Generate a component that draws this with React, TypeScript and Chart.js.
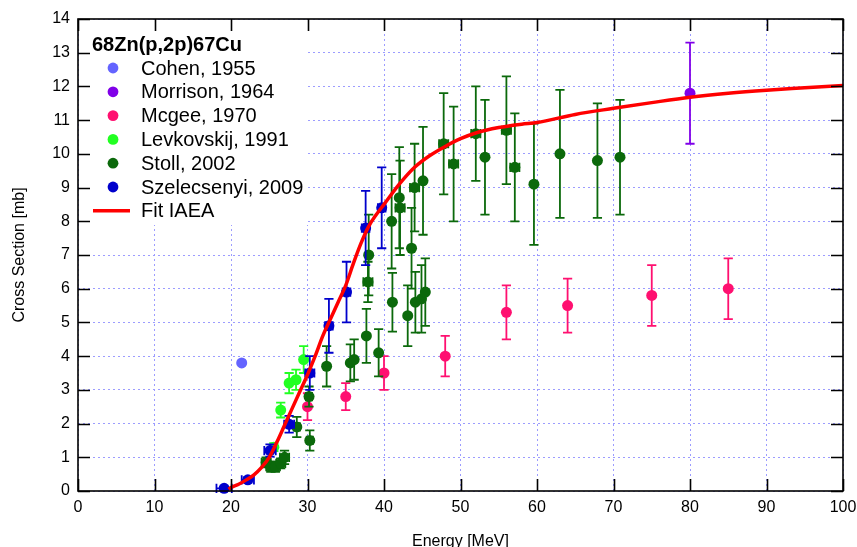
import React, { useEffect, useRef } from 'react';
import { Chart, registerables } from 'chart.js';

Chart.register(...registerables);

const FONT = 'Arial, "Liberation Sans", sans-serif';

// ---- data ----
const titleText = '68Zn(p,2p)67Cu';
const xTitle = 'Energy [MeV]';
const yTitle = 'Cross Section [mb]';

const cohenE = [21.4];
const cohenXS = [3.8];
const cohenErr = [0];

const morrisonE = [80];
const morrisonXS = [11.8];
const morrisonErr = [1.5];

const mcgeeE = [30, 35, 40, 48, 56, 64, 75, 85];
const mcgeeXS = [2.5, 2.8, 3.5, 4.0, 5.3, 5.5, 5.8, 6.0];
const mcgeeErr = [0.4, 0.4, 0.5, 0.6, 0.8, 0.8, 0.9, 0.9];

const levE = [25.6, 26.5, 27.6, 28.5, 29.5];
const levXS = [1.3, 2.4, 3.2, 3.3, 3.9];
const levErr = [0.12, 0.22, 0.3, 0.3, 0.4];

const stollE = [24.6, 25.2, 25.8, 26.5, 27.0, 28.6, 30.2, 30.3, 32.5, 35.6, 36.1, 37.7, 37.9, 38.0, 39.3, 41.0, 41.1, 42.0, 42.1, 43.1, 43.6, 44.0, 44.1, 44.9, 45.1, 45.4, 47.8, 49.1, 52.0, 53.2, 56.0, 57.1, 59.6, 63.0, 67.9, 70.85];
const stollXS = [0.85, 0.72, 0.72, 0.82, 1.0, 1.9, 2.8, 1.5, 3.7, 3.8, 3.9, 4.6, 6.2, 7.0, 4.1, 8.0, 5.6, 8.7, 8.4, 5.2, 7.2, 9.0, 5.6, 5.7, 9.2, 5.9, 10.3, 9.7, 10.6, 9.9, 10.7, 9.6, 9.1, 10.0, 9.8, 9.9];
const stollErr = [0.15, 0.15, 0.15, 0.15, 0.2, 0.3, 0.3, 0.3, 0.6, 0.55, 0.6, 0.8, 0.6, 1.2, 0.7, 1.4, 0.87, 1.5, 1.4, 0.9, 1.2, 1.3, 0.9, 1.0, 1.6, 1.0, 1.5, 1.7, 1.4, 1.7, 1.6, 1.6, 1.8, 1.9, 1.7, 1.7];
const stollXErr = [0.6, 0.6, 0.6, 0.6, 0.6, 0.4, 0.4, 0.4, 0, 0, 0, 0, 0.6, 0, 0, 0, 0, 0, 0.6, 0, 0, 0.6, 0, 0, 0, 0, 0.6, 0.6, 0.6, 0, 0.6, 0.6, 0, 0, 0, 0];

const szE = [19.1, 22.2, 25.1, 27.6, 30.3, 32.8, 35.1, 37.6, 39.7];
const szXS = [0.08, 0.33, 1.2, 1.98, 3.5, 4.9, 5.9, 7.8, 8.4];
const szErr = [0.05, 0.08, 0.18, 0.25, 0.5, 0.8, 0.9, 1.1, 1.2];
const szXErr = [1.0, 0.8, 0.75, 0.65, 0.6, 0.5, 0.5, 0.5, 0.5];

const fitE = [19.7, 20, 21, 22, 23, 24, 25, 26, 27, 28, 29, 30, 31, 32, 33, 34, 35, 36, 37, 38, 39, 40, 42, 44, 46, 48, 50, 52, 55, 58, 60, 65, 70, 75, 80, 85, 90, 95, 100];
const fitXS = [0.05, 0.1, 0.2, 0.33, 0.48, 0.7, 1.0, 1.45, 1.95, 2.45, 2.95, 3.45, 4.0, 4.6, 5.1, 5.6, 6.1, 6.75, 7.35, 7.85, 8.2, 8.5, 9.1, 9.6, 9.95, 10.22, 10.45, 10.62, 10.78, 10.88, 10.93, 11.17, 11.35, 11.52, 11.68, 11.8, 11.89, 11.96, 12.03];

const xTicksMax = 100;
const yTicksMax = 14;

const pts = (xs: number[], ys: number[]) => xs.map((x, i) => ({ x, y: ys[i] }));

const errorBarPlugin = {
  id: 'errorBars',
  beforeDatasetDraw(chart: any, args: any) {
    const ds = chart.data.datasets[args.index];
    if (!ds.yErr && !ds.xErr) return;
    const { ctx } = chart;
    const x = chart.scales.x;
    const y = chart.scales.y;
    const cap = 4.6;
    ctx.save();
    ctx.strokeStyle = ds.backgroundColor;
    ctx.lineWidth = 1.8;
    ds.data.forEach((p: any, i: number) => {
      const px = x.getPixelForValue(p.x);
      const py = y.getPixelForValue(p.y);
      const ey = ds.yErr ? ds.yErr[i] || 0 : 0;
      const ex = ds.xErr ? ds.xErr[i] || 0 : 0;
      ctx.beginPath();
      if (ey > 0) {
        const t = y.getPixelForValue(p.y + ey);
        const b = y.getPixelForValue(p.y - ey);
        ctx.moveTo(px, t); ctx.lineTo(px, b);
        ctx.moveTo(px - cap, t); ctx.lineTo(px + cap, t);
        ctx.moveTo(px - cap, b); ctx.lineTo(px + cap, b);
      }
      if (ex > 0) {
        const l = x.getPixelForValue(p.x - ex);
        const r = x.getPixelForValue(p.x + ex);
        ctx.moveTo(l, py); ctx.lineTo(r, py);
        ctx.moveTo(l, py - cap); ctx.lineTo(l, py + cap);
        ctx.moveTo(r, py - cap); ctx.lineTo(r, py + cap);
      }
      ctx.stroke();
    });
    ctx.restore();
  },
};

const legendPlugin = {
  id: 'insideLegend',
  beforeDatasetsDraw(chart: any) {
    const { ctx, chartArea: a } = chart;
    ctx.save();
    ctx.fillStyle = '#fff';
    ctx.fillRect(a.left + 1, a.top + 1, 229, 205);
    ctx.fillStyle = '#000';
    ctx.textBaseline = 'middle';
    ctx.textAlign = 'left';
    ctx.font = `bold 20px ${FONT}`;
    ctx.fillText(titleText, a.left + 14, a.top + 26);
    ctx.font = `20px ${FONT}`;
    const rowH = 23.8;
    chart.data.datasets.forEach((ds: any, i: number) => {
      const yy = a.top + 49 + i * rowH;
      if (ds.isFit) {
        ctx.strokeStyle = ds.borderColor;
        ctx.lineWidth = 3.5;
        ctx.beginPath();
        ctx.moveTo(a.left + 15, yy);
        ctx.lineTo(a.left + 52, yy);
        ctx.stroke();
      } else {
        ctx.fillStyle = ds.backgroundColor;
        ctx.beginPath();
        ctx.arc(a.left + 35, yy, 5.4, 0, Math.PI * 2);
        ctx.fill();
      }
      ctx.fillStyle = '#000';
      ctx.fillText(ds.label, a.left + 63, yy + 1);
    });
    ctx.restore();
  },
};

const framePlugin = {
  id: 'frameTicks',
  afterDraw(chart: any) {
    const { ctx, chartArea: a } = chart;
    const x = chart.scales.x;
    const y = chart.scales.y;
    const tl = 12;
    ctx.save();
    ctx.strokeStyle = '#000';
    ctx.lineWidth = 1.6;
    ctx.strokeRect(a.left, a.top, a.right - a.left, a.bottom - a.top);
    ctx.beginPath();
    x.ticks.forEach((t: any) => {
      const px = Math.round(x.getPixelForValue(t.value)) + 0.5;
      ctx.moveTo(px, a.bottom); ctx.lineTo(px, a.bottom - tl);
      ctx.moveTo(px, a.top); ctx.lineTo(px, a.top + tl);
    });
    y.ticks.forEach((t: any) => {
      const py = Math.round(y.getPixelForValue(t.value)) + 0.5;
      ctx.moveTo(a.left, py); ctx.lineTo(a.left + tl, py);
      ctx.moveTo(a.right, py); ctx.lineTo(a.right - tl, py);
    });
    ctx.stroke();
    ctx.restore();
  },
};

export default function App() {
  const ref = useRef<HTMLCanvasElement | null>(null);

  useEffect(() => {
    if (!ref.current) return;
    const mk = (label: string, color: string, xs: number[], ys: number[], yErr: number[], xErr: number[] | null, order: number) => ({
      label,
      data: pts(xs, ys),
      backgroundColor: color,
      borderColor: color,
      borderWidth: 0,
      pointRadius: 5.5,
      pointHoverRadius: 5.5,
      showLine: false,
      clip: false as any,
      yErr,
      xErr,
      order,
    });
    const chart = new Chart(ref.current, {
      type: 'scatter',
      data: {
        datasets: [
          mk('Cohen, 1955', '#6464ff', cohenE, cohenXS, cohenErr, null, 6),
          mk('Morrison, 1964', '#8000e8', morrisonE, morrisonXS, morrisonErr, null, 5),
          mk('Mcgee, 1970', '#ff1070', mcgeeE, mcgeeXS, mcgeeErr, null, 4),
          mk('Levkovskij, 1991', '#22ff22', levE, levXS, levErr, null, 3),
          mk('Stoll, 2002', '#0b690b', stollE, stollXS, stollErr, stollXErr, 2),
          mk('Szelecsenyi, 2009', '#0000cc', szE, szXS, szErr, szXErr, 1),
          {
            label: 'Fit IAEA',
            type: 'line',
            data: pts(fitE, fitXS),
            borderColor: '#ff0000',
            backgroundColor: '#ff0000',
            borderWidth: 3.5,
            pointRadius: 0,
            showLine: true,
            fill: false,
            cubicInterpolationMode: 'monotone',
            clip: false,
            isFit: true,
            order: 0,
          } as any,
        ] as any,
      },
      options: {
        responsive: false,
        animation: false,
        devicePixelRatio: 1,
        events: [],
        layout: { padding: { top: 19, right: 14, left: 0, bottom: 0 } },
        plugins: {
          legend: { display: false },
          tooltip: { enabled: false },
        },
        scales: {
          x: {
            type: 'linear',
            min: 0,
            max: xTicksMax,
            ticks: { stepSize: 10, color: '#000', padding: 7, maxRotation: 0, font: { size: 16, family: FONT } },
            grid: { color: '#9c9cff', lineWidth: 1, drawTicks: false },
            border: { display: false, dash: [2, 3] },
            title: { display: true, text: xTitle, color: '#000', font: { size: 16, family: FONT }, padding: { top: 0, bottom: -4 } },
            afterFit(s: any) { s.height = 56; s.paddingRight = 0; s.paddingLeft = 0; },
          },
          y: {
            type: 'linear',
            min: 0,
            max: yTicksMax,
            ticks: { stepSize: 1, color: '#000', padding: 8, font: { size: 16, family: FONT } },
            grid: { color: '#9c9cff', lineWidth: 1, drawTicks: false },
            border: { display: false, dash: [2, 3] },
            title: { display: true, text: yTitle, color: '#000', font: { size: 16, family: FONT }, padding: { top: 10, bottom: 0 } },
            afterFit(s: any) { s.width = 78; s.paddingTop = 0; s.paddingBottom = 0; },
          },
        },
      } as any,
      plugins: [errorBarPlugin, legendPlugin, framePlugin],
    });
    return () => chart.destroy();
  }, []);

  return (
    <div style={{ position: 'absolute', left: 0, top: 0, width: 857, height: 547, background: '#fff' }}>
      <canvas ref={ref} width={857} height={547} />
    </div>
  );
}
